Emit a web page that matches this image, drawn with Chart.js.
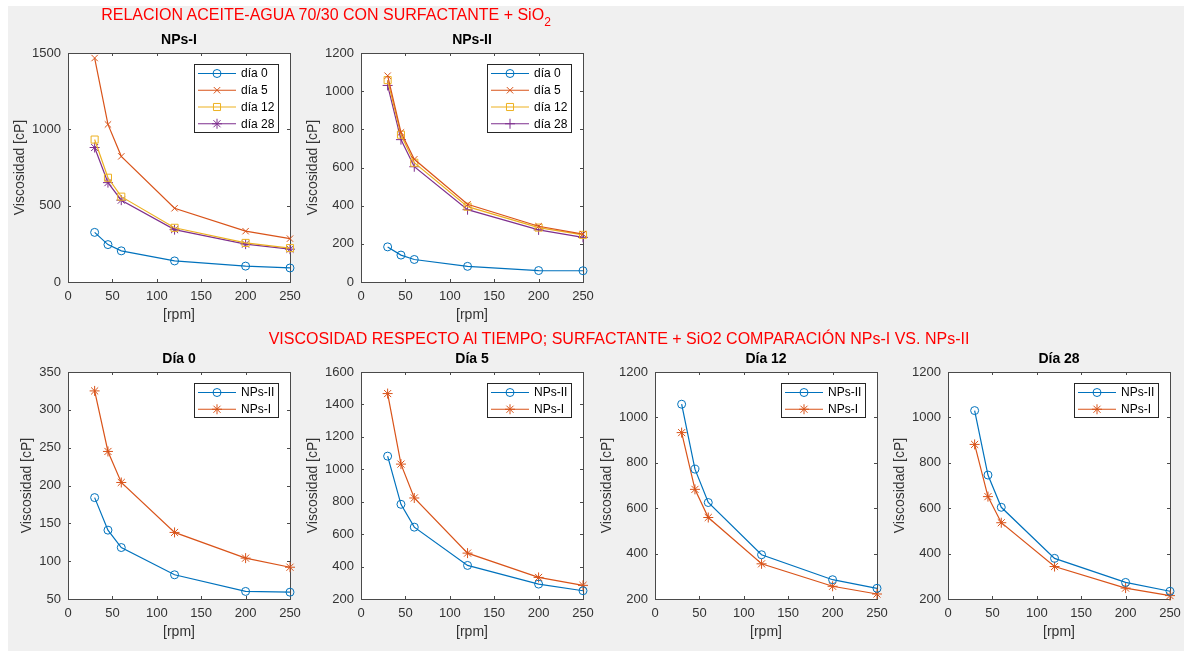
<!DOCTYPE html>
<html><head><meta charset="utf-8">
<script src="https://cdn.jsdelivr.net/npm/chart.js@4/dist/chart.umd.min.js"></script>
<style>
html,body{margin:0;padding:0;background:#fff;}
body{width:1184px;height:651px;position:relative;overflow:hidden;font-family:"Liberation Sans",Arial,Helvetica,sans-serif;}
#fig{position:absolute;left:8px;top:6px;right:0;bottom:0;background:#f0f0f0;}
.sup{position:absolute;color:#ff0000;font-size:16px;line-height:18px;white-space:nowrap;transform:translateX(-50%);z-index:5;}
.sup span{position:relative;top:6px;font-size:12px;}
canvas{position:absolute;}
</style></head><body>
<div id="fig"></div>
<div class="sup" style="left:326px;top:6px">RELACION ACEITE-AGUA 70/30 CON SURFACTANTE + SiO<span>2</span></div>
<div class="sup" style="left:619px;top:330px">VISCOSIDAD RESPECTO Al TIEMPO; SURFACTANTE + SiO2 COMPARACIÓN NPs-I VS. NPs-II</div>
<script>
// ---- data ----
const rpm = [30, 45, 60, 120, 200, 250];
const npsI_dia0  = [325, 245, 204, 138, 104, 92];
const npsI_dia5  = [1467, 1032, 823, 483, 333, 284];
const npsI_dia12 = [933, 683, 559, 355, 256, 222];
const npsI_dia28 = [881, 651, 536, 343, 248, 215];
const npsII_dia0  = [184, 141, 118, 82, 60, 59];
const npsII_dia5  = [1081, 784, 643, 407, 292, 251];
const npsII_dia12 = [1058, 772, 625, 395, 285, 247];
const npsII_dia28 = [1030, 746, 604, 379, 273, 234];
const xTicks = [0, 50, 100, 150, 200, 250];
const yTicksNPsI = [0, 500, 1000, 1500];
const yTicksNPsII = [0, 200, 400, 600, 800, 1000, 1200];
const yTicksDia0 = [50, 100, 150, 200, 250, 300, 350];
const yTicksDia5 = [200, 400, 600, 800, 1000, 1200, 1400, 1600];
const yTicksDia12 = [200, 400, 600, 800, 1000, 1200];
const yTicksDia28 = [200, 400, 600, 800, 1000, 1200];

const FONT = '"Liberation Sans", Arial, Helvetica, sans-serif';
const TICK = '#333333';
const C_BLUE = '#0072BD', C_ORANGE = '#D95319', C_YELLOW = '#EDB120', C_PURPLE = '#7E2F8E';

function ds(label, ys, color, style, r) {
  return {
    label, data: rpm.map((x, i) => ({x, y: ys[i]})),
    borderColor: color, backgroundColor: 'rgba(0,0,0,0)', borderWidth: 1.2,
    pointStyle: style, pointRadius: r, pointHoverRadius: r, pointBorderWidth: 1,
    pointBorderColor: color, pointBackgroundColor: 'rgba(0,0,0,0)',
    tension: 0, clip: false
  };
}

const matlabAxes = {
  id: 'matlabAxes',
  beforeDraw(chart) {
    const {ctx, chartArea: a} = chart;
    ctx.save();
    ctx.fillStyle = '#ffffff';
    ctx.fillRect(a.left, a.top, a.right - a.left, a.bottom - a.top);
    ctx.restore();
  },
  beforeDatasetsDraw(chart) {
    const {ctx, chartArea: a, scales} = chart;
    ctx.save();
    ctx.strokeStyle = '#4a4a4a';
    ctx.lineWidth = 1;
    ctx.strokeRect(a.left + 0.5, a.top + 0.5, a.right - a.left, a.bottom - a.top);
    const tl = 3;
    ctx.beginPath();
    scales.x.ticks.forEach(t => {
      const px = Math.round(scales.x.getPixelForValue(t.value)) + 0.5;
      ctx.moveTo(px, a.bottom); ctx.lineTo(px, a.bottom - tl);
      ctx.moveTo(px, a.top); ctx.lineTo(px, a.top + tl);
    });
    scales.y.ticks.forEach(t => {
      const py = Math.round(scales.y.getPixelForValue(t.value)) + 0.5;
      ctx.moveTo(a.left, py); ctx.lineTo(a.left + tl, py);
      ctx.moveTo(a.right, py); ctx.lineTo(a.right - tl, py);
    });
    ctx.stroke();
    ctx.restore();
  },
  afterDatasetsDraw(chart) {
    const {ctx, chartArea: a} = chart;
    const dsets = chart.data.datasets;
    ctx.save();
    ctx.font = '12px ' + FONT;
    const tw = Math.max(...dsets.map(d => ctx.measureText(d.label).width));
    const rowH = 16.75, padL = 4, sample = 38, gap = 5, padR = 4;
    const bw = Math.round(padL + sample + gap + tw + padR);
    const bh = Math.round(dsets.length * rowH + 0.5);
    const bx = Math.round(a.right - 12 - bw), by = Math.round(a.top + 11);
    ctx.fillStyle = '#ffffff';
    ctx.fillRect(bx, by, bw, bh);
    ctx.strokeStyle = '#262626'; ctx.lineWidth = 1;
    ctx.strokeRect(bx + 0.5, by + 0.5, bw, bh);
    dsets.forEach((d, i) => {
      const cy = by + 9.5 + i * rowH;
      ctx.strokeStyle = d.borderColor; ctx.lineWidth = d.borderWidth;
      ctx.beginPath(); ctx.moveTo(bx + padL, cy); ctx.lineTo(bx + padL + sample, cy); ctx.stroke();
      ctx.fillStyle = 'rgba(0,0,0,0)'; ctx.lineWidth = 1;
      Chart.helpers.drawPoint(ctx, {pointStyle: d.pointStyle, radius: d.pointRadius, rotation: 0, borderWidth: 1}, bx + padL + sample / 2, cy);
      ctx.fillStyle = '#000'; ctx.textBaseline = 'middle'; ctx.textAlign = 'left';
      ctx.fillText(d.label, bx + padL + sample + gap, cy + 0.5);
    });
    ctx.restore();
  }
};

function chartAt(L, T, W, H, title, datasets, yTicks, yTitlePad) {
  const cw = 66 + W + 16, ch = 30 + H + 50;
  const c = document.createElement('canvas');
  c.width = cw; c.height = ch;
  c.style.left = (L - 66) + 'px'; c.style.top = (T - 30) + 'px';
  c.style.width = cw + 'px'; c.style.height = ch + 'px';
  document.body.appendChild(c);
  new Chart(c.getContext('2d'), {
    type: 'line',
    data: {datasets},
    plugins: [matlabAxes],
    options: {
      responsive: false, animation: false, devicePixelRatio: 1,
      events: [],
      layout: {padding: {left: 0, right: 16, top: 0, bottom: 0}},
      plugins: {
        legend: {display: false}, tooltip: {enabled: false},
        title: {display: true, text: title, color: '#000', fullSize: false,
          font: {family: FONT, size: 14, weight: 'bold', lineHeight: '17px'},
          padding: {top: 9, bottom: 4}}
      },
      scales: {
        x: {
          type: 'linear', min: xTicks[0], max: xTicks[xTicks.length - 1],
          afterBuildTicks: s => { s.ticks = xTicks.map(v => ({value: v})); },
          ticks: {color: TICK, font: {family: FONT, size: 13}, padding: 7, maxRotation: 0, autoSkip: false,
            callback: v => String(v)},
          grid: {display: false, drawTicks: false}, border: {display: false},
          title: {display: true, text: '[rpm]', color: TICK, font: {family: FONT, size: 14}, padding: {top: 0, bottom: 8}},
          afterFit: s => { s.height = 50; s.paddingLeft = 0; s.paddingRight = 0; }
        },
        y: {
          type: 'linear', min: yTicks[0], max: yTicks[yTicks.length - 1],
          afterBuildTicks: s => { s.ticks = yTicks.map(v => ({value: v})); },
          ticks: {color: TICK, font: {family: FONT, size: 13}, padding: 7, autoSkip: false,
            callback: v => String(v)},
          grid: {display: false, drawTicks: false}, border: {display: false},
          title: {display: true, text: 'Viscosidad [cP]', color: TICK, font: {family: FONT, size: 14}, padding: {top: yTitlePad, bottom: 0}},
          afterFit: s => { s.width = 66; s.paddingTop = 0; s.paddingBottom = 0; }
        }
      }
    }
  });
}

// top row
chartAt(68, 53, 222, 229, 'NPs-I', [
  ds('día 0', npsI_dia0, C_BLUE, 'circle', 4),
  ds('día 5', npsI_dia5, C_ORANGE, 'crossRot', 4.5),
  ds('día 12', npsI_dia12, C_YELLOW, 'rect', 5),
  ds('día 28', npsI_dia28, C_PURPLE, 'star', 5)
], yTicksNPsI, 9.6);
chartAt(361, 53, 222, 229, 'NPs-II', [
  ds('día 0', npsII_dia0, C_BLUE, 'circle', 4),
  ds('día 5', npsII_dia5, C_ORANGE, 'crossRot', 4.5),
  ds('día 12', npsII_dia12, C_YELLOW, 'rect', 5),
  ds('día 28', npsII_dia28, C_PURPLE, 'cross', 5)
], yTicksNPsII, 9.6);
// bottom row
chartAt(68, 372, 222, 227, 'Día 0', [
  ds('NPs-II', npsII_dia0, C_BLUE, 'circle', 4),
  ds('NPs-I', npsI_dia0, C_ORANGE, 'star', 5)
], yTicksDia0, 16.6);
chartAt(361, 372, 222, 227, 'Día 5', [
  ds('NPs-II', npsII_dia5, C_BLUE, 'circle', 4),
  ds('NPs-I', npsI_dia5, C_ORANGE, 'star', 5)
], yTicksDia5, 9.6);
chartAt(655, 372, 222, 227, 'Día 12', [
  ds('NPs-II', npsII_dia12, C_BLUE, 'circle', 4),
  ds('NPs-I', npsI_dia12, C_ORANGE, 'star', 5)
], yTicksDia12, 9.6);
chartAt(948, 372, 222, 227, 'Día 28', [
  ds('NPs-II', npsII_dia28, C_BLUE, 'circle', 4),
  ds('NPs-I', npsI_dia28, C_ORANGE, 'star', 5)
], yTicksDia28, 9.6);
</script>
</body></html>
